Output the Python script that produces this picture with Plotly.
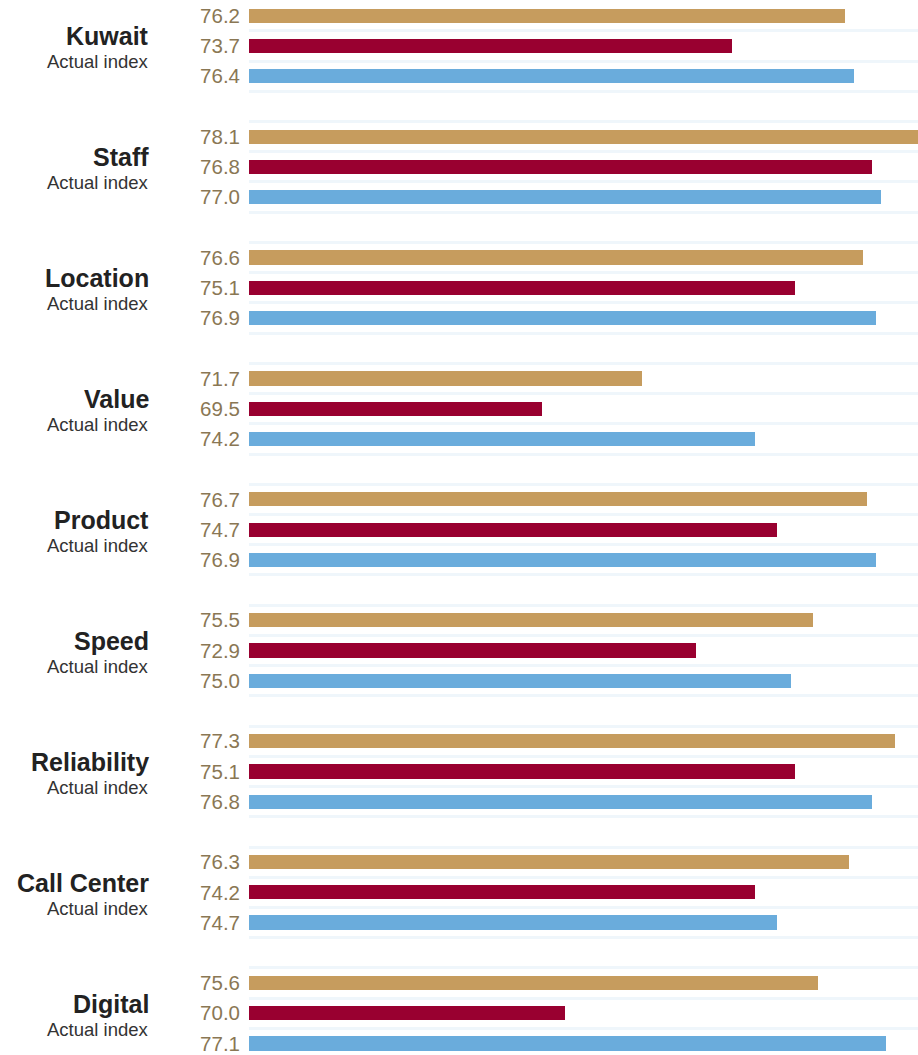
import plotly.graph_objects as go

# 数据
categories = ['Kuwait', 'Staff', 'Location', 'Value', 'Product',
              'Speed', 'Reliability', 'Call Center', 'Digital']
series_names = ['Series A', 'Series B', 'Series C']
values_a = [76.2, 78.1, 76.6, 71.7, 76.7, 75.5, 77.3, 76.3, 75.6]
values_b = [73.7, 76.8, 75.1, 69.5, 74.7, 72.9, 75.1, 74.2, 70.0]
values_c = [76.4, 77.0, 76.9, 74.2, 76.9, 75.0, 76.8, 74.7, 77.1]
sub_label = 'Actual index'
baseline = 63

colors = ['#c69c5e', '#990030', '#6aacdc']
text_color = '#8a7754'
grid_color = '#eff6fb'
font_family = 'Liberation Sans, Arial, sans-serif'

# 每组4个槽位：3个柱 + 1个空行
slots_per_group = 4
all_series = [values_a, values_b, values_c]

fig = go.Figure()

row_pos = []
row_text = []
for i, (name, vals) in enumerate(zip(series_names, all_series)):
    ys = [g * slots_per_group + i for g in range(len(categories))]
    row_pos += ys
    row_text += [f'{v:.1f}' for v in vals]
    # 柱子从基线画到数值
    fig.add_trace(go.Bar(
        x=[v - baseline for v in vals],
        y=ys,
        base=baseline,
        orientation='h',
        name=name,
        width=0.47,
        marker=dict(color=colors[i], line=dict(width=0)),
        showlegend=False,
        hovertemplate='%{customdata}<extra></extra>',
        customdata=vals,
    ))

n_slots = len(categories) * slots_per_group
y_range = [34.38, -0.52]

annotations = []
for g, cat in enumerate(categories):
    y0 = g * slots_per_group
    annotations.append(dict(
        text=f'<b>{cat}</b>', x=0, xref='paper', y=y0 + 0.68, yref='y',
        xanchor='right', yanchor='middle', xshift=-98, showarrow=False,
        font=dict(size=25, color='#222222', family=font_family)
    ))
    annotations.append(dict(
        text=sub_label, x=0, xref='paper', y=y0 + 1.52, yref='y',
        xanchor='right', yanchor='middle', xshift=-98, showarrow=False,
        font=dict(size=18.5, color='#333333', family=font_family)
    ))

fig.update_layout(
    width=918,
    height=1055,
    margin=dict(l=249, r=0, t=0, b=0, autoexpand=False),
    plot_bgcolor='white',
    paper_bgcolor='white',
    bargap=0,
    barmode='overlay',
    xaxis=dict(
        range=[baseline, 77.82],
        showgrid=False,
        zeroline=False,
        showticklabels=False,
        fixedrange=True,
        automargin=False,
    ),
    yaxis=dict(
        range=y_range,
        tickmode='array',
        tickvals=[k - 0.5 for k in range(n_slots + 1)],
        showticklabels=False,
        showgrid=True,
        gridcolor=grid_color,
        gridwidth=3,
        zeroline=False,
        ticks='',
        automargin=False,
    ),
    yaxis2=dict(
        overlaying='y',
        side='left',
        range=y_range,
        tickmode='array',
        tickvals=row_pos,
        ticktext=row_text,
        tickfont=dict(size=20.5, color=text_color, family=font_family),
        ticklabelstandoff=8,
        ticklabeloverflow='allow',
        showgrid=False,
        zeroline=False,
        ticks='',
        automargin=False,
    ),
    annotations=annotations,
)

# 用一个空 trace 让 yaxis2 显示
fig.add_trace(go.Scatter(x=[None], y=[None], yaxis='y2', showlegend=False,
                         hoverinfo='skip'))

# 去掉页面默认的 body 边距，让图贴满窗口；隐藏工具栏
fig.write_html('out.html', config={'displayModeBar': False},
               post_script="document.body.style.margin='0';")
